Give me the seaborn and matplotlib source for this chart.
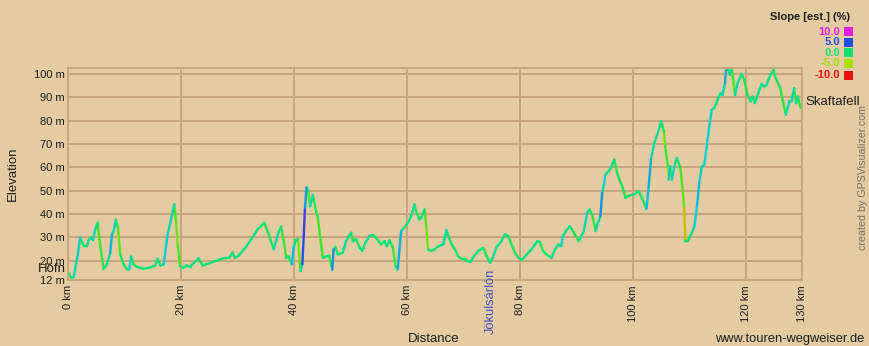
import numpy as np
import pandas as pd
import matplotlib
matplotlib.use("Agg")
import matplotlib.pyplot as plt
import seaborn as sns
from matplotlib.colors import LinearSegmentedColormap
from matplotlib.patches import Rectangle

# ---------------- data ----------------
distance_km = [
    0.0, 0.5, 0.95, 1.54, 2.12, 2.72, 3.3, 3.6, 4.07, 4.37, 4.78, 5.2, 5.66, 6.26, 6.84,
    7.43, 7.73, 8.02, 8.43, 8.79, 9.2, 9.8, 10.38, 10.8, 11.14, 11.56, 12.15, 13.3, 14.5,
    15.4, 15.8, 16.3, 16.9, 17.3, 17.6, 18.0, 18.3, 18.75, 19.05, 19.4, 19.8, 20.4, 21.0,
    21.6, 22.0, 23.05, 23.8, 24.35, 26.1, 27.3, 28.5, 29.1, 29.5, 30.2, 31.4, 32.6, 33.5,
    34.7, 35.4, 36.4, 37.2, 37.7, 38.2, 38.6, 39.0, 39.6, 39.9, 40.3, 40.7, 41.0, 41.15,
    41.45, 41.7, 41.9, 42.2, 42.5, 42.85, 43.3, 43.9, 44.2, 44.8, 45.1, 45.7, 46.2, 46.75,
    47.0, 47.3, 47.75, 48.6, 49.2, 49.7, 50.1, 50.4, 51.0, 51.6, 52.05, 52.6, 53.35, 53.9,
    54.5, 55.4, 56.0, 56.4, 56.9, 57.5, 57.95, 58.35, 58.65, 58.95, 59.5, 60.3, 60.7, 61.3,
    61.6, 62.2, 62.5, 63.1, 63.4, 63.7, 64.3, 64.85, 65.6, 66.4, 67.0, 67.3, 67.9, 68.5,
    69.1, 69.7, 70.3, 70.6, 71.2, 71.8, 72.6, 73.5, 74.1, 74.7, 75.15, 75.9, 76.7, 77.35,
    77.9, 78.5, 79.1, 79.7, 80.3, 81.2, 82.05, 83.05, 83.5, 84.1, 84.7, 85.6, 86.2, 86.8,
    87.3, 87.6, 88.1, 88.8, 89.55, 90.4, 91.3, 91.9, 92.3, 92.8, 93.4, 93.8, 94.25, 94.55,
    94.85, 95.1, 95.7, 96.1, 96.7, 97.2, 97.6, 98.1, 98.7, 99.3, 100.2, 101.0, 101.6,
    102.4, 102.8, 103.2, 103.7, 104.3, 105.0, 105.5, 105.7, 106.2, 106.35, 106.6, 106.9,
    107.5, 107.8, 108.4, 108.75, 109.05, 109.3, 109.7, 110.3, 110.9, 111.35, 111.75, 112.2,
    112.65, 113.1, 113.5, 113.95, 114.4, 115.0, 115.5, 115.9, 116.3, 116.5, 116.9, 117.2,
    117.5, 117.85, 118.1, 118.55, 119.25, 119.7, 120.3, 120.8, 121.2, 121.6, 122.2, 122.8,
    123.25, 123.7, 124.1, 124.9, 125.3, 126.1, 126.5, 127.1, 127.7, 128.1, 128.55, 128.9,
    129.2, 129.7,
]
elevation_m = [
    15, 12.8, 13, 20.6, 29.9, 26.3, 26.3, 28.9, 29.9, 28.9, 33.4, 36.3, 26.3, 16.6, 18.5,
    23.5, 31.3, 32.7, 37.7, 34.1, 22.7, 18.5, 16.3, 16.3, 21.8, 18.5, 17.4, 16.6, 17.1,
    18, 20.9, 18, 18.5, 26.3, 31.3, 35.6, 39.1, 44.1, 37.7, 26.3, 17.7, 17.1, 18,
    17.3, 18.5, 21.0, 18, 18.5, 19.9, 21.0, 21.3, 23.5, 21.3, 22.3, 25.7, 29.9, 33.4,
    36.3, 32, 24.9, 32, 34.6, 27.7, 21.3, 21.9, 18.5, 25.7, 28.9, 29.4, 19.2, 15.6,
    18.5, 30.7, 42, 51.4, 49.8, 43.4, 48.2, 41.2, 38.4, 26.3, 21.3, 21.8, 22.3, 16.3,
    24.9, 26, 22.7, 23.5, 28.4, 30.6, 32, 28.4, 29.2, 25.6, 24.2, 27.7, 30.6, 31,
    29.9, 27, 28.4, 26.3, 28.7, 25.6, 17.7, 16.3, 24.9, 32.7, 34.1, 37, 39.1, 44.1,
    41.2, 37.7, 38.4, 42, 34.8, 24.9, 24.2, 24.9, 26.3, 27, 33.1, 30.6, 27, 24.9,
    21.8, 20.9, 20.9, 19.9, 19.5, 21.8, 24.2, 25.6, 22, 19.2, 21.3, 26, 28.4, 31.3,
    30.6, 27, 23.5, 21.3, 20.3, 22.7, 24.9, 28.4, 28.1, 24.2, 22.7, 21.3, 24.9, 27,
    26.3, 30.6, 32.7, 34.8, 32, 28.4, 32.7, 40.5, 42, 39.8, 32.7, 36.3, 39.1, 49.1,
    52.6, 56.9, 58.3, 59.8, 63.3, 57.6, 54.8, 51.9, 46.9, 47.9, 48.4, 49.8, 46.9,
    42.3, 51.9, 63.3, 69.7, 74, 79.6, 75.4, 69, 60.4, 54.8, 60.4, 54.8,
    61.9, 64, 59.8, 51.9, 43.4, 28.4, 28.4, 31.3, 34.8, 43.4, 53.4, 60.4,
    61.2, 69.7, 76.8, 84.6, 85.4, 88.9, 91.8, 91, 96, 101.7, 101.7, 99.6,
    102.4, 96, 91, 96, 100, 97.4, 91, 88.2, 90.3, 87.5, 91.8, 95.7,
    94.6, 95.3, 98.2, 101.7, 98.2, 93.9, 88.9, 82.5, 88.2, 88.2, 93.9, 87.5,
    90.3, 85.4,
]
x_ticks = [0, 20, 40, 60, 80, 100, 120, 130]
x_tick_labels = ["0 km", "20 km", "40 km", "60 km", "80 km", "100 km", "120 km", "130 km"]
y_ticks = [12, 20, 30, 40, 50, 60, 70, 80, 90, 100]
y_tick_labels = ["12 m", "20 m", "30 m", "40 m", "50 m", "60 m", "70 m", "80 m", "90 m", "100 m"]
legend_values = [10.0, 5.0, 0.0, -5.0, -10.0]
legend_colors = ["#e01ee0", "#1e50e8", "#10e070", "#a8e000", "#e81010"]
waypoints = ["Höfn", "Jökulsárlón", "Skaftafell"]
waypoint_km = [0.0, 74.75, 130.0]

# ---------------- styling ----------------
sns.set_style("white")
plt.rcParams["font.family"] = ["Liberation Sans", "DejaVu Sans"]
BG = "#e4cba2"
GRID = "#c6a77c"
TXT = "#1e1e1e"

km = np.array(distance_km)
el = np.array(elevation_m)
slope = np.diff(el) / np.diff(km) / 10.0  # percent

rows = []
for i in range(len(km) - 1):
    rows.append((km[i], el[i], slope[i], i))
    rows.append((km[i + 1], el[i + 1], slope[i], i))
df = pd.DataFrame(rows, columns=["km", "elev", "slope", "seg"])

stops = [
    (0.0, (0.91, 0.05, 0.05)),
    (0.125, (0.95, 0.55, 0.0)),
    (0.25, (0.66, 0.88, 0.0)),
    (0.4, (0.25, 0.9, 0.15)),
    (0.5, (0.0, 0.9, 0.45)),
    (0.6, (0.0, 0.82, 0.85)),
    (0.75, (0.12, 0.3, 0.9)),
    (0.875, (0.5, 0.15, 0.9)),
    (1.0, (0.88, 0.1, 0.88)),
]
cmap = LinearSegmentedColormap.from_list("slope", stops)

W, H = 869, 346
fig = plt.figure(figsize=(W / 100, H / 100), dpi=100, facecolor=BG)
left_px, right_px, top_px, bot_px = 68.3, 802.3, 68.3, 279.5
ax = fig.add_axes([left_px / W, 1 - bot_px / H, (right_px - left_px) / W, (bot_px - top_px) / H])
ax.set_facecolor(BG)

sns.lineplot(data=df, x="km", y="elev", hue="slope", units="seg", estimator=None,
             palette=cmap, hue_norm=(-10, 10), legend=False, sort=False,
             linewidth=1.7, solid_capstyle="round", ax=ax)

ax.set_xlim(0, 130)
ax.set_ylim(12, 102.4)
ax.set_xticks(x_ticks)
ax.set_xticklabels(x_tick_labels, rotation=90, fontsize=8, color=TXT)
ax.set_yticks(y_ticks)
ax.set_yticklabels(y_tick_labels, fontsize=8, color=TXT)
ax.tick_params(axis="both", length=0)
ax.tick_params(axis="x", pad=4)
ax.tick_params(axis="y", pad=2.5)
ax.set_xlabel("")
ax.set_ylabel("")
ax.set_axisbelow(True)
ax.grid(True, color=GRID, linewidth=1.4)
for s in ax.spines.values():
    s.set_color(GRID)
    s.set_linewidth(1.4)

# waypoint labels
ax.text(-0.5, 16.3, waypoints[0], ha="right", va="center", fontsize=9.5, color=TXT, clip_on=False)
ax.text(waypoint_km[1], 0.052, waypoints[1], transform=ax.get_xaxis_transform(),
        rotation=90, ha="center", va="top", fontsize=9.3, color="#4650c0", clip_on=False)
ax.text(waypoint_km[2] + 0.6, 88, waypoints[2], ha="left", va="center", fontsize=9.5,
        color=TXT, clip_on=False)

# axis titles and credits
fig.text(12.5 / W, 1 - 174 / H, "Elevation", rotation=90, ha="center", va="center", fontsize=9.5, color=TXT)
fig.text(434 / W, 1 - 339 / H, "Distance", ha="center", va="center", fontsize=9.5, color=TXT)
fig.text(864 / W, 1 - 339 / H, "www.touren-wegweiser.de", ha="right", va="center", fontsize=9.3, color=TXT)
fig.text(863 / W, 1 - 177 / H, "created by GPSVisualizer.com", rotation=90, ha="center", va="center",
         fontsize=7.7, color="#7a7066")

# slope legend
fig.text(850 / W, 1 - 17 / H, "Slope [est.] (%)", ha="right", va="center", fontsize=8,
         fontweight="bold", color=TXT)
legend_y = [31.7, 42.3, 52.7, 63.3, 75.0]
for v, c, yy in zip(legend_values, legend_colors, legend_y):
    fig.text(840 / W, 1 - yy / H, f"{v:.1f}", ha="right", va="center", fontsize=8,
             fontweight="bold", color=c)
    fig.patches.append(Rectangle((844 / W, 1 - (yy + 4.5) / H), 9 / W, 9 / H,
                                 transform=fig.transFigure, facecolor=c, edgecolor="none"))

fig.savefig("out.png", dpi=100, facecolor=BG)
